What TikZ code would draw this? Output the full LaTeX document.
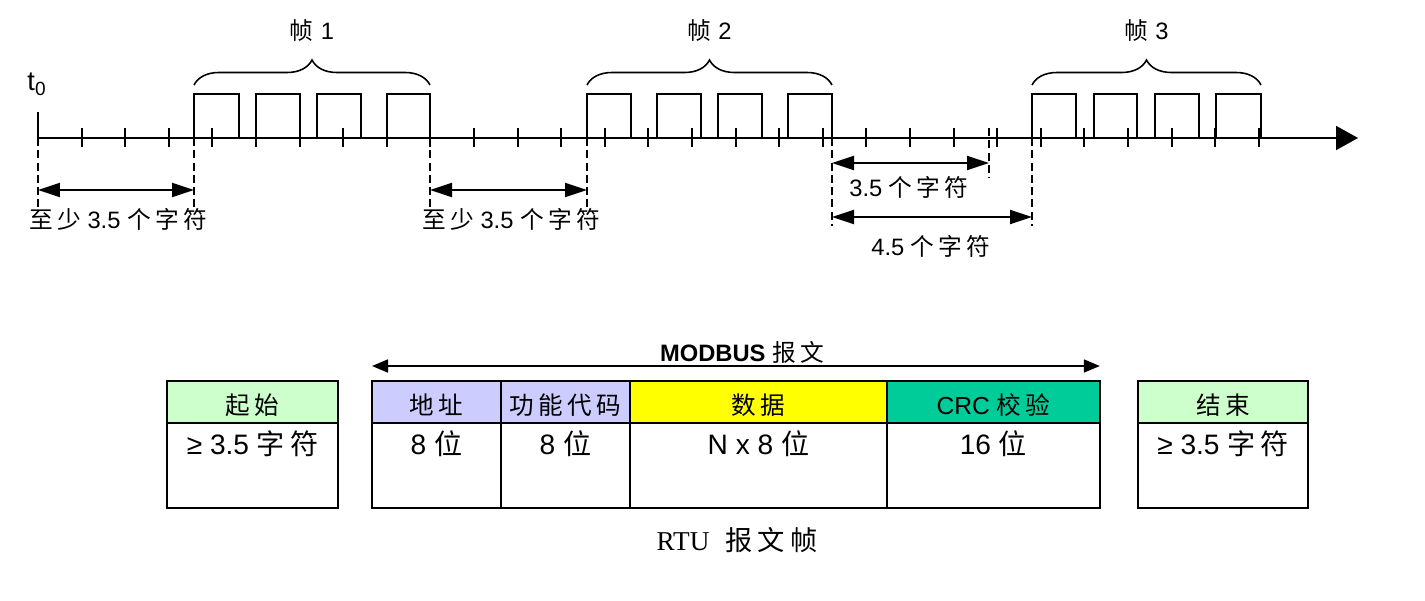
\documentclass[tikz,border=0pt]{standalone}
\usepackage{fontspec}
\setmainfont{Liberation Sans}
\newfontfamily\cjk[LetterSpace=18]{Noto Sans CJK SC}
\newfontfamily\serif{Liberation Serif}
\usepackage{tikz}
\usetikzlibrary{arrows.meta, positioning, decorations.pathreplacing, calc}
\definecolor{startgreen}{HTML}{CCFFCC}
\definecolor{addrblue}{HTML}{CCCCFF}
\definecolor{datayellow}{HTML}{FFFF00}
\definecolor{crcgreen}{HTML}{00CC99}
\newcommand{\zh}[1]{{\cjk #1}}
\tikzstyle{timeaxis}   = [line width=1.1pt, -{Triangle[length=0.44cm, width=0.48cm]}]
\tikzstyle{tickmark}   = [line width=1.1pt]
\tikzstyle{pulse}      = [line width=1.1pt]
\tikzstyle{guideline}  = [line width=1.1pt, dash pattern=on 4.5pt off 2.5pt]
\tikzstyle{gaparrow}   = [line width=1.1pt, {Triangle[length=0.44cm, width=0.28cm]}-{Triangle[length=0.44cm, width=0.28cm]}]
\tikzstyle{msgarrow}   = [line width=1pt, {Triangle[length=0.32cm, width=0.26cm]}-{Triangle[length=0.32cm, width=0.26cm]}]
\tikzstyle{framebrace} = [line width=0.9pt, decorate, decoration={brace, amplitude=0.5cm}]
\tikzstyle{hdr} = [rectangle, draw, line width=1.2pt, outer sep=0pt, inner sep=0pt,
                   minimum height=0.84cm, text height=0.68cm, text depth=0.16cm,
                   font=\fontsize{14}{16}\selectfont]
\tikzstyle{val} = [rectangle, draw, line width=1.2pt, outer sep=0pt, inner sep=0pt,
                   minimum height=1.7cm, text height=0.64cm, text depth=1.06cm,
                   font=\fontsize{16}{19}\selectfont]
\begin{document}
\begin{tikzpicture}[x=0.02cm, y=-0.02cm, font=\fontsize{13.5}{16}\selectfont]
  \useasboundingbox (0,0) rectangle (1425,601);

  %% ── Time axis ──
  \coordinate (t0) at (38,138);
  \coordinate (tend) at (1358,138);
  \draw[timeaxis] (t0) -- (tend);
  \draw[tickmark] (38,112) -- (t0);
  \node[font=\fontsize{15.5}{18}\selectfont] (t0lbl) at (37,84) {t\textsubscript{0}};
  \foreach \k in {1,...,28}
    \draw[tickmark] ({38+43.6*\k},128) -- ({38+43.6*\k},147);

  %% ── Frames ──
  \foreach \a/\b in {194/239, 256/300, 317/361, 387/430,
                     587/631, 657/701, 718/762, 788/832,
                     1032/1076, 1094/1137, 1155/1199, 1216/1261}
    \draw[pulse] (\a,138) -- (\a,94) -- (\b,94) -- (\b,138);
  \draw[framebrace] (194,85) -- (430,85) node[midway, yshift=1.08cm] (f1) {\zh{帧}\hspace{0.3em}1};
  \draw[framebrace] (587,85) -- (832,85) node[midway, yshift=1.08cm] (f2) {\zh{帧}\hspace{0.3em}2};
  \draw[framebrace] (1032,85) -- (1261,85) node[midway, yshift=1.08cm] (f3) {\zh{帧}\hspace{0.3em}3};

  %% ── Silent intervals ──
  \foreach \x in {38,194,430,587}
    \draw[guideline] (\x,138) -- (\x,207);
  \draw[guideline] (832,138) -- (832,226);
  \draw[guideline] (989,128) -- (989,178);
  \draw[guideline] (1032,138) -- (1032,226);

  \coordinate (g1a) at (38,190);  \coordinate (g1b) at (194,190);
  \coordinate (g2a) at (430,190); \coordinate (g2b) at (587,190);
  \coordinate (g3a) at (832,163); \coordinate (g3b) at (989,163);
  \coordinate (g4a) at (832,217); \coordinate (g4b) at (1032,217);
  \draw[gaparrow] (g1a) -- (g1b);
  \draw[gaparrow] (g2a) -- (g2b);
  \draw[gaparrow] (g3a) -- (g3b);
  \draw[gaparrow] (g4a) -- (g4b);
  \node (g1lbl) at (118,219) {\zh{至少} 3.5 \zh{个字符}};
  \node (g2lbl) at (511,219) {\zh{至少} 3.5 \zh{个字符}};
  \node (g3lbl) at (909,187) {3.5 \zh{个字符}};
  \node (g4lbl) at (931,246) {4.5 \zh{个字符}};

  %% ── RTU frame ──
  \node[hdr, fill=startgreen, minimum width=3.42cm, anchor=north west] (start) at (167,381) {\zh{起始}};
  \node[val, minimum width=3.42cm, below=0pt of start] (startv) {≥ 3.5 \zh{字符}};

  \node[hdr, fill=addrblue, minimum width=2.58cm, anchor=north west] (addr) at (372,381) {\zh{地址}};
  \node[hdr, fill=addrblue, minimum width=2.58cm, right=0pt of addr] (func) {\zh{功能代码}};
  \node[hdr, fill=datayellow, minimum width=5.14cm, right=0pt of func] (data) {\zh{数据}};
  \node[hdr, fill=crcgreen, minimum width=4.26cm, right=0pt of data] (crc) {CRC \zh{校验}};
  \node[val, minimum width=2.58cm, below=0pt of addr] (addrv) {8 \zh{位}};
  \node[val, minimum width=2.58cm, below=0pt of func] (funcv) {8 \zh{位}};
  \node[val, minimum width=5.14cm, below=0pt of data] (datav) {N x 8 \zh{位}};
  \node[val, minimum width=4.26cm, below=0pt of crc] (crcv) {16 \zh{位}};

  \node[hdr, fill=startgreen, minimum width=3.40cm, anchor=north west] (stop) at (1138,381) {\zh{结束}};
  \node[val, minimum width=3.40cm, below=0pt of stop] (stopv) {≥ 3.5 \zh{字符}};

  \coordinate (mb_l) at ([yshift=0.3cm]addr.north west);
  \coordinate (mb_r) at ([yshift=0.3cm]crc.north east);
  \draw[msgarrow] (mb_l) -- (mb_r)
    node[midway, yshift=0.27cm, xshift=0.12cm, font=\fontsize{13.5}{16}\selectfont] (mblbl)
    {\textbf{MODBUS} \zh{报文}};

  \node[font=\serif\fontsize{15.5}{18}\selectfont] (caption) at (737,540) {RTU\hspace{0.6em}\zh{报文帧}};

\end{tikzpicture}
\end{document}
